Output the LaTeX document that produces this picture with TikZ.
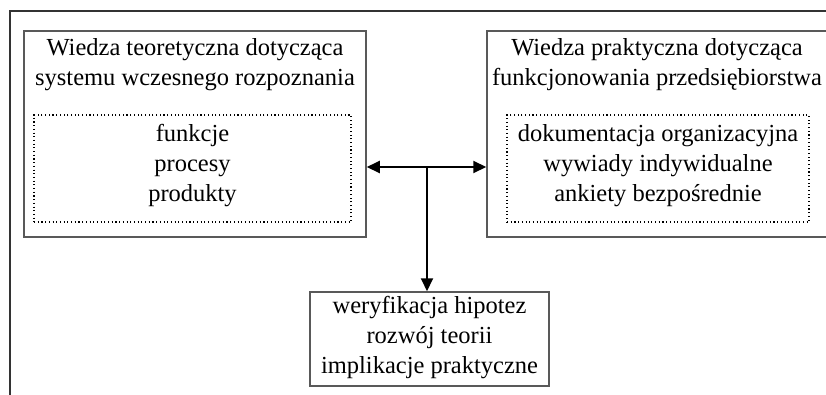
\documentclass[tikz,border=0pt]{standalone}
\usepackage{fontspec}
\setmainfont{Liberation Serif}
\usetikzlibrary{arrows.meta}
\begin{document}
\begin{tikzpicture}[x=1pt,y=-1pt,
  box/.style={draw=black!65,line width=1.5pt,rectangle,inner sep=0pt},
  dotbox/.style={draw=black,line width=1.1pt,dash pattern=on 1.1pt off 2.6pt,rectangle,inner sep=0pt},
  txt/.style={align=center,inner sep=0pt,font=\fontsize{24.5}{30}\selectfont},
  conn/.style={line width=2pt,black},
  tip/.style={-{Triangle[length=13pt,width=12pt]}}]
\useasboundingbox (0,0) rectangle (826,394);
% outer frame (cut off)
\draw[line width=2.8pt,black!80] (10,420) -- (10,11) -- (840,11);
% left box
\node[box,minimum width=342pt,minimum height=206pt] (lbox) at (195,134) {};
\node[txt] (ltitle) at (195,65) {Wiedza teoretyczna dotycząca\\systemu wczesnego rozpoznania};
\node[dotbox,minimum width=317pt,minimum height=107pt] (ldot) at (192.5,168.5) {};
\node[txt] (lcont) at (192.5,166) {funkcje\\procesy\\produkty};
% right box
\node[box,minimum width=360pt,minimum height=206pt] (rbox) at (667,134) {};
\node[txt] (rtitle) at (657,65) {Wiedza praktyczna dotycząca\\funkcjonowania przedsiębiorstwa};
\node[dotbox,minimum width=302pt,minimum height=107pt] (rdot) at (658,168.5) {};
\node[txt] (rcont) at (658,166) {dokumentacja organizacyjna\\wywiady indywidualne\\ankiety bezpośrednie};
% bottom box
\node[box,minimum width=239pt,minimum height=94pt] (bbox) at (429.5,339) {};
\node[txt] (bcont) at (429.5,338) {weryfikacja hipotez\\rozwój teorii\\implikacje praktyczne};
% connectors
\coordinate (lend) at (lbox.east |- 0,167);
\coordinate (rend) at (rbox.west |- 0,167);
\coordinate (mid) at (427,167);
\draw[conn,{Triangle[length=13pt,width=12pt]}-{Triangle[length=13pt,width=12pt]}] (lend) -- (rend);
\draw[conn,tip] (mid) -- (mid |- bbox.north);
\end{tikzpicture}
\end{document}
